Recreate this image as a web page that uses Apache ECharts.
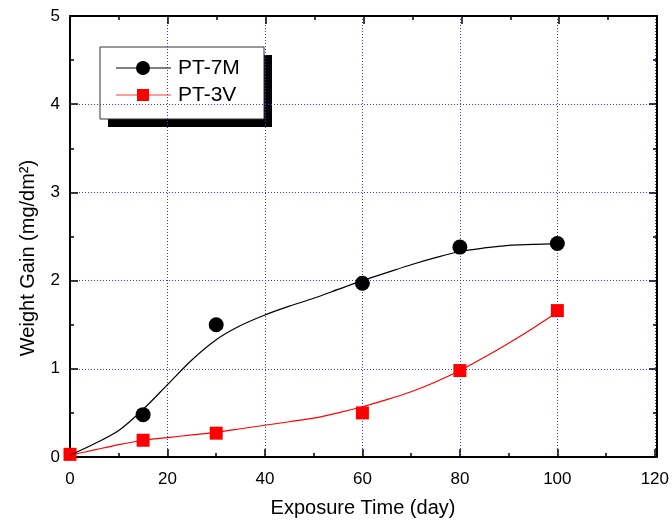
<!DOCTYPE html>
<html>
<head>
<meta charset="utf-8">
<script src="https://cdn.jsdelivr.net/npm/echarts@6/dist/echarts.min.js"></script>
<style>
  html, body { margin: 0; padding: 0; background: #fff; }
  #chart { width: 672px; height: 527px; }
</style>
</head>
<body>
<div id="chart"></div>
<script>
// Measured weight gain (mg/dm2) against exposure time (days)
const days7M = [15, 30, 60, 80, 100];
const gainPT7M = [0.48, 1.50, 1.97, 2.38, 2.42];
const days3V = [0, 15, 30, 60, 80, 100];
const gainPT3V = [0.03, 0.19, 0.27, 0.50, 0.98, 1.66];

// Fitted trend curves, sampled every 5 days
const fitDays = [0, 5, 10, 15, 20, 25, 30, 35, 40, 45, 50, 55, 60, 65, 70, 75, 80, 85, 90, 95, 100];
const fitPT7M = [0.02, 0.15, 0.30, 0.54, 0.82, 1.10, 1.33, 1.49, 1.61, 1.71, 1.80, 1.90, 2.00, 2.09, 2.18, 2.26, 2.33, 2.37, 2.40, 2.41, 2.42];
const fitPT3V = [0.02, 0.08, 0.14, 0.19, 0.22, 0.25, 0.28, 0.32, 0.36, 0.40, 0.44, 0.50, 0.57, 0.65, 0.74, 0.85, 0.98, 1.13, 1.29, 1.46, 1.64];

const FONT = 'Liberation Sans, Arial, sans-serif';
const pairs = (xs, ys) => xs.map((x, i) => [x, ys[i]]);

const xRange = { min: 0, max: 120, interval: 20 };
const yRange = { min: 0, max: 5, interval: 1 };

// Two grids share the same rectangle: the first holds the data, labels and
// dotted grid on the bottom/left; the second adds the top/right frame edges.
const plotRect = { left: 70, right: 15, top: 16, bottom: 70 };

const frameAxis = (gridIndex, position, range, withGrid, withLabels) => ({
  type: 'value', gridIndex, position,
  min: range.min, max: range.max, interval: range.interval,
  axisLine: { show: true, onZero: false, lineStyle: { color: '#000', width: 2 } },
  axisTick: { show: true, inside: true, length: 8, lineStyle: { color: '#000', width: 1.5 } },
  minorTick: { show: true, splitNumber: 2, length: 4, lineStyle: { color: '#000', width: 1.5 } },
  splitLine: withGrid
    ? { show: true, lineStyle: { color: '#3333ff', width: 1, type: [1, 2] } }
    : { show: false },
  axisLabel: withLabels
    ? { show: true, color: '#000', fontSize: 17, fontFamily: FONT, margin: position === 'left' ? 10 : 14 }
    : { show: false }
});

const chart = echarts.init(document.getElementById('chart'));

chart.setOption({
  animation: false,
  grid: [{ ...plotRect }, { ...plotRect }],
  xAxis: [
    frameAxis(0, 'bottom', xRange, true, true),
    frameAxis(1, 'top', xRange, false, false)
  ],
  yAxis: [
    frameAxis(0, 'left', yRange, true, true),
    frameAxis(1, 'right', yRange, false, false)
  ],
  series: [
    {
      name: 'PT-7M fit', type: 'line', data: pairs(fitDays, fitPT7M),
      smooth: 0.3, showSymbol: false, silent: true,
      lineStyle: { color: '#000', width: 1.2 }
    },
    {
      name: 'PT-3V fit', type: 'line', data: pairs(fitDays, fitPT3V),
      smooth: 0.3, showSymbol: false, silent: true,
      lineStyle: { color: '#ff0000', width: 1.2 }
    },
    {
      name: 'PT-7M', type: 'scatter', data: pairs(days7M, gainPT7M),
      symbol: 'circle', symbolSize: 15,
      itemStyle: { color: '#000', opacity: 1 }
    },
    {
      name: 'PT-3V', type: 'scatter', data: pairs(days3V, gainPT3V),
      symbol: 'rect', symbolSize: 13,
      itemStyle: { color: '#ff0000', opacity: 1 }
    },
    // keeps the frame grid bound to a series
    { name: 'frame', type: 'scatter', xAxisIndex: 1, yAxisIndex: 1, data: [], silent: true }
  ],
  graphic: [
    // axis titles
    {
      type: 'text', x: 363, y: 508,
      style: {
        text: 'Exposure Time (day)', fill: '#000', font: '20px ' + FONT,
        textAlign: 'center', textVerticalAlign: 'middle'
      }
    },
    {
      type: 'text', x: 28, y: 258, rotation: Math.PI / 2,
      style: {
        text: 'Weight Gain (mg/dm²)', fill: '#000', font: '20px ' + FONT,
        textAlign: 'center', textVerticalAlign: 'middle'
      }
    },
    // legend box with drop shadow
    {
      type: 'group', x: 100, y: 47, z: 10,
      children: [
        { type: 'rect', shape: { x: 8, y: 8, width: 164, height: 72 }, style: { fill: '#000' } },
        { type: 'rect', shape: { x: 0, y: 0, width: 164, height: 72 }, style: { fill: '#fff', stroke: '#333', lineWidth: 1 } },
        { type: 'line', shape: { x1: 16, y1: 21, x2: 71, y2: 21 }, style: { stroke: '#000', lineWidth: 1.2 } },
        { type: 'circle', shape: { cx: 43, cy: 21, r: 7 }, style: { fill: '#000' } },
        { type: 'text', x: 78, y: 21, style: { text: 'PT-7M', fill: '#000', font: '21px ' + FONT, textVerticalAlign: 'middle' } },
        { type: 'line', shape: { x1: 16, y1: 48, x2: 71, y2: 48 }, style: { stroke: '#ff7a7a', lineWidth: 1.5 } },
        { type: 'rect', shape: { x: 37, y: 42, width: 12, height: 12 }, style: { fill: '#ff0000' } },
        { type: 'text', x: 78, y: 48, style: { text: 'PT-3V', fill: '#000', font: '21px ' + FONT, textVerticalAlign: 'middle' } }
      ]
    }
  ]
});
</script>
</body>
</html>
